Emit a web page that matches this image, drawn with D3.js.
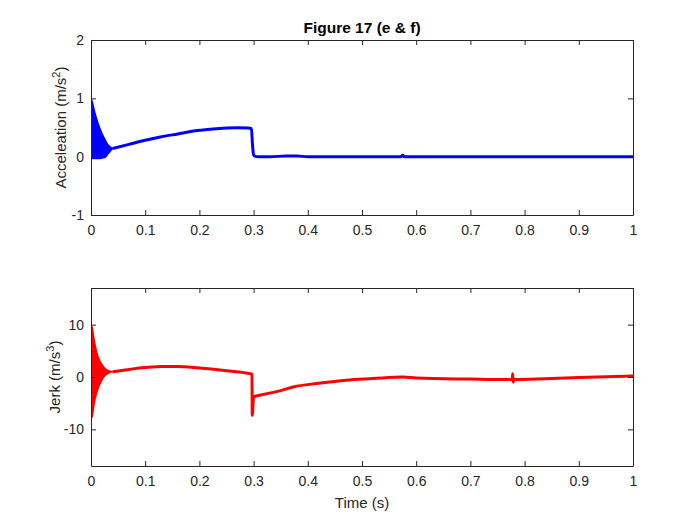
<!DOCTYPE html>
<html>
<head>
<meta charset="utf-8">
<script src="https://cdn.jsdelivr.net/npm/d3@7"></script>
<style>
  body { margin: 0; background: #fff; }
  svg { font-family: "Liberation Sans", Arial, sans-serif; }
  .tick text { fill: #262626; font-size: 14px; }
  .domain, .tick line { stroke: #262626; }
</style>
</head>
<body>
<div id="chart"></div>
<script>
// x ticks
const xTicks = [0, 0.1, 0.2, 0.3, 0.4, 0.5, 0.6, 0.7, 0.8, 0.9, 1]
const accTicks = [-1, 0, 1, 2]
const jerkTicks = [-10, 0, 10]

// acceleration: start-up ringing envelope (upper / lower)
const accRingT = [0, 0.002, 0.007, 0.012, 0.017, 0.022, 0.026, 0.03, 0.035, 0.04]
const accRingHi = [1.0, 0.95, 0.76, 0.6, 0.47, 0.36, 0.29, 0.22, 0.17, 0.14]
const accRingLo = [-0.03, -0.03, -0.03, -0.03, -0.03, -0.02, -0.01, 0.03, 0.09, 0.14]

// acceleration: smooth part
const accT = [0.04, 0.07, 0.1, 0.13, 0.16, 0.19, 0.22, 0.25, 0.27, 0.29, 0.296, 0.298, 0.3, 0.302,
  0.31, 0.33, 0.36, 0.38, 0.4, 0.45, 0.5, 0.55, 0.572, 0.575, 0.578, 0.6, 0.7, 0.8, 0.9, 1.0]
const accVal = [0.14, 0.21, 0.28, 0.34, 0.39, 0.44, 0.47, 0.49, 0.495, 0.49, 0.48, 0.2, 0.03, 0.01,
  0.0, 0.0, 0.01, 0.01, 0.0, 0.0, 0.0, 0.0, 0.0, 0.025, 0.0, 0.0, 0.0, 0.0, 0.0, 0.0]

// jerk: start-up ringing envelope
const jerkRingT = [0, 0.002, 0.006, 0.01, 0.014, 0.02, 0.025, 0.03, 0.035, 0.04]
const jerkRingHi = [10, 9.5, 7.0, 5.0, 3.6, 2.4, 1.7, 1.3, 1.1, 1.0]
const jerkRingLo = [-8.0, -7.6, -5.0, -3.2, -1.9, -0.6, 0.2, 0.6, 0.9, 1.0]

// jerk: smooth part
const jerkT = [0.04, 0.06, 0.08, 0.1, 0.13, 0.16, 0.2, 0.25, 0.295, 0.297, 0.2975, 0.3, 0.32, 0.35, 0.373,
  0.42, 0.47, 0.52, 0.576, 0.6, 0.7, 0.777, 0.778, 0.779, 0.78, 0.85, 0.9, 1.0]
const jerkVal = [1.0, 1.3, 1.6, 1.8, 2.0, 2.0, 1.7, 1.2, 0.6, 0.5, -7.3, -3.8, -3.3, -2.6, -1.9,
  -1.2, -0.6, -0.3, 0.0, -0.2, -0.4, -0.5, 0.6, -1.0, -0.5, -0.3, -0.1, 0.2]

const width = 700, height = 525
const left = 91, right = 633

const svg = d3.select('#chart')
  .append('svg')
  .attr('width', width)
  .attr('height', height)

const x = d3.scaleLinear().domain([0, 1]).range([left, right])

function panel(top, bottom, domain, yTicks, label, sup, labelX, color, ringT, ringHi, ringLo, t, v, id) {
  const y = d3.scaleLinear().domain(domain).range([bottom, top])

  svg.append('clipPath').attr('id', id)
    .append('rect').attr('x', left).attr('y', top).attr('width', right - left).attr('height', bottom - top)

  const g = svg.append('g').attr('clip-path', `url(#${id})`)

  // ringing drawn as band between envelopes
  const band = d3.area()
    .x((d, i) => x(ringT[i]))
    .y0((d, i) => y(ringLo[i]))
    .y1((d, i) => y(ringHi[i]))
    .curve(d3.curveMonotoneX)
  g.append('path')
    .datum(ringT)
    .attr('d', band)
    .attr('fill', color)
    .attr('stroke', color)
    .attr('stroke-width', 1.5)

  const line = d3.line()
    .x((d, i) => x(t[i]))
    .y((d, i) => y(v[i]))
    .curve(d3.curveMonotoneX)
  g.append('path')
    .datum(t)
    .attr('d', line)
    .attr('fill', 'none')
    .attr('stroke', color)
    .attr('stroke-width', 3)
    .attr('stroke-linejoin', 'round')

  // axes, ticks inside
  svg.append('g')
    .attr('transform', `translate(0,${bottom})`)
    .call(d3.axisBottom(x).tickValues(xTicks).tickFormat(d3.format('')).tickSizeInner(-5).tickSizeOuter(0).tickPadding(10))
  svg.append('g')
    .attr('transform', `translate(0,${top})`)
    .call(d3.axisTop(x).tickValues(xTicks).tickFormat('').tickSizeInner(-5).tickSizeOuter(0))
  svg.append('g')
    .attr('transform', `translate(${left},0)`)
    .call(d3.axisLeft(y).tickValues(yTicks).tickFormat(d => d < 0 ? '-' + Math.abs(d) : d).tickSizeInner(-5).tickSizeOuter(0).tickPadding(7))
  svg.append('g')
    .attr('transform', `translate(${right},0)`)
    .call(d3.axisRight(y).tickValues(yTicks).tickFormat('').tickSizeInner(-5).tickSizeOuter(0))

  svg.selectAll('.domain').attr('stroke-width', 1)
  svg.selectAll('.tick line').attr('stroke-width', 1)

  const txt = svg.append('text')
    .attr('transform', `translate(${labelX},${(top + bottom) / 2}) rotate(-90)`)
    .attr('text-anchor', 'middle')
    .attr('fill', '#262626')
    .attr('font-size', 15)
  txt.append('tspan').text(label)
  txt.append('tspan').attr('dy', -6).attr('font-size', 11).text(sup)
  txt.append('tspan').attr('dy', 6).text(')')
}

panel(40, 215, [-1, 2], accTicks, 'Acceleation (m/s', '2', 66, '#0000ff', accRingT, accRingHi, accRingLo, accT, accVal, 'clipA')
panel(288, 466, [-17, 17], jerkTicks, 'Jerk (m/s', '3', 60, '#ff0000', jerkRingT, jerkRingHi, jerkRingLo, jerkT, jerkVal, 'clipJ')

svg.append('text')
  .attr('x', (left + right) / 2)
  .attr('y', 33)
  .attr('text-anchor', 'middle')
  .attr('font-weight', 'bold')
  .attr('font-size', 15.5)
  .attr('fill', '#000')
  .text('Figure 17 (e & f)')

svg.append('text')
  .attr('x', (left + right) / 2)
  .attr('y', 508)
  .attr('text-anchor', 'middle')
  .attr('font-size', 15)
  .attr('fill', '#262626')
  .text('Time (s)')
</script>
</body>
</html>
